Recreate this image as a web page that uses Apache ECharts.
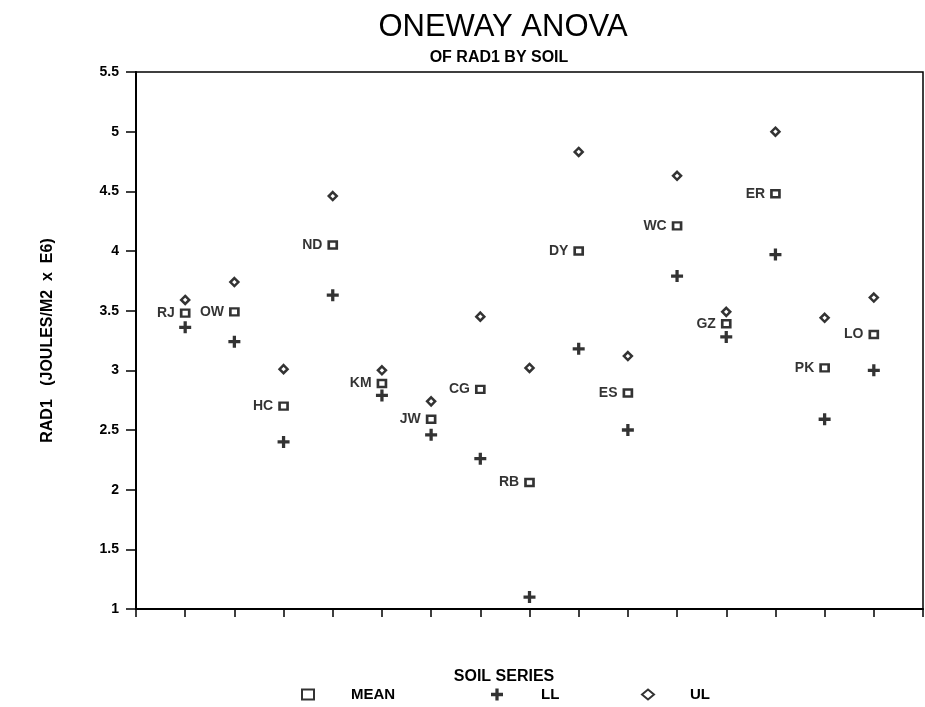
<!DOCTYPE html>
<html>
<head>
<meta charset="utf-8">
<script src="https://cdn.jsdelivr.net/npm/echarts@6/dist/echarts.min.js"></script>
<style>
html,body{margin:0;padding:0;background:#fff;}
#c{width:925px;height:707px;}
</style>
</head>
<body>
<div id="c"></div>
<script>
// ---- data ----
var categories = ['RJ','OW','HC','ND','KM','JW','CG','RB','DY','ES','WC','GZ','ER','PK','LO'];
var meanValues = [3.48, 3.49, 2.70, 4.05, 2.89, 2.59, 2.84, 2.06, 4.00, 2.81, 4.21, 3.39, 4.48, 3.02, 3.30];
var llValues   = [3.36, 3.24, 2.40, 3.63, 2.79, 2.46, 2.26, 1.10, 3.18, 2.50, 3.79, 3.28, 3.97, 2.59, 3.00];
var ulValues   = [3.59, 3.74, 3.01, 4.46, 3.00, 2.74, 3.45, 3.02, 4.83, 3.12, 4.63, 3.49, 5.00, 3.44, 3.61];
var yTicks = [1, 1.5, 2, 2.5, 3, 3.5, 4, 4.5, 5, 5.5];

var FONT = "'Liberation Sans', Arial, sans-serif";
var PLUS = 'path://M4,0H7V4H11V7H7V11H4V7H0V4H4Z';

function pts(vals){ return vals.map(function(v,i){ return [i+1, v, categories[i]]; }); }

var chart = echarts.init(document.getElementById('c'), null, {renderer:'canvas'});
chart.setOption({
  backgroundColor:'#fff',
  animation:false,
  title:[
    {text:'ONEWAY ANOVA', left:498, top:7, textAlign:'center',
     textStyle:{fontFamily:FONT, fontWeight:'normal', fontSize:31, color:'#000'}},
    {text:'OF RAD1 BY SOIL', left:494, top:45, textAlign:'center',
     textStyle:{fontFamily:FONT, fontWeight:'bold', fontSize:16, color:'#000'}},
    {text:'SOIL SERIES', left:499, top:664, textAlign:'center',
     textStyle:{fontFamily:FONT, fontWeight:'bold', fontSize:16, color:'#000'}}
  ],
  legend:[
    {data:['MEAN'], left:296, top:682, itemWidth:12, itemHeight:10, textStyle:{fontFamily:FONT,fontWeight:'bold',fontSize:15,color:'#000',padding:[0,0,0,32]}},
    {data:['LL'], left:486, top:682, itemWidth:12, itemHeight:12, textStyle:{fontFamily:FONT,fontWeight:'bold',fontSize:15,color:'#000',padding:[0,0,0,33]}},
    {data:['UL'], left:636, top:682, itemWidth:12, itemHeight:10, textStyle:{fontFamily:FONT,fontWeight:'bold',fontSize:15,color:'#000',padding:[0,0,0,31]}}
  ],
  grid:{left:136, right:2, top:72, bottom:98, show:true, borderColor:'#000', borderWidth:1.5, backgroundColor:'transparent'},
  xAxis:{
    type:'value', min:0, max:16, interval:1,
    axisLine:{show:true, onZero:false, lineStyle:{color:'#000', width:2}},
    axisTick:{show:true, inside:false, length:8, lineStyle:{color:'#000', width:1.5}},
    axisLabel:{show:false},
    splitLine:{show:false}
  },
  yAxis:{
    type:'value', min:1, max:5.5, interval:0.5,
    name:'RAD1   (JOULES/M2  x  E6)', nameLocation:'middle', nameGap:80, nameRotate:90,
    nameTextStyle:{fontFamily:FONT, fontWeight:'bold', fontSize:16, color:'#000'},
    axisLine:{show:true, onZero:false, lineStyle:{color:'#000', width:2}},
    axisTick:{show:true, inside:false, length:10, lineStyle:{color:'#000', width:1.5}},
    axisLabel:{show:true, margin:17, fontFamily:FONT, fontWeight:'bold', fontSize:14, color:'#000',
      formatter:function(v){ return yTicks.indexOf(v) >= 0 ? String(v) : ''; }},
    splitLine:{show:false}
  },
  series:[
    {name:'MEAN', type:'scatter', data:pts(meanValues), symbol:'rect', symbolSize:[8,7],
     itemStyle:{color:'#fff', borderColor:'#000', borderWidth:2.5},
     label:{show:true, position:'left', distance:5, formatter:function(p){return p.data[2];},
       fontFamily:FONT, fontWeight:'bold', fontSize:14, color:'#000'}, z:3},
    {name:'LL', type:'scatter', data:pts(llValues), symbol:PLUS, symbolSize:12,
     itemStyle:{color:'#000'}, z:2},
    {name:'UL', type:'scatter', data:pts(ulValues), symbol:'diamond', symbolSize:[8,8],
     itemStyle:{color:'#fff', borderColor:'#000', borderWidth:2.5}, z:2}
  ]
});
</script>
</body>
</html>
